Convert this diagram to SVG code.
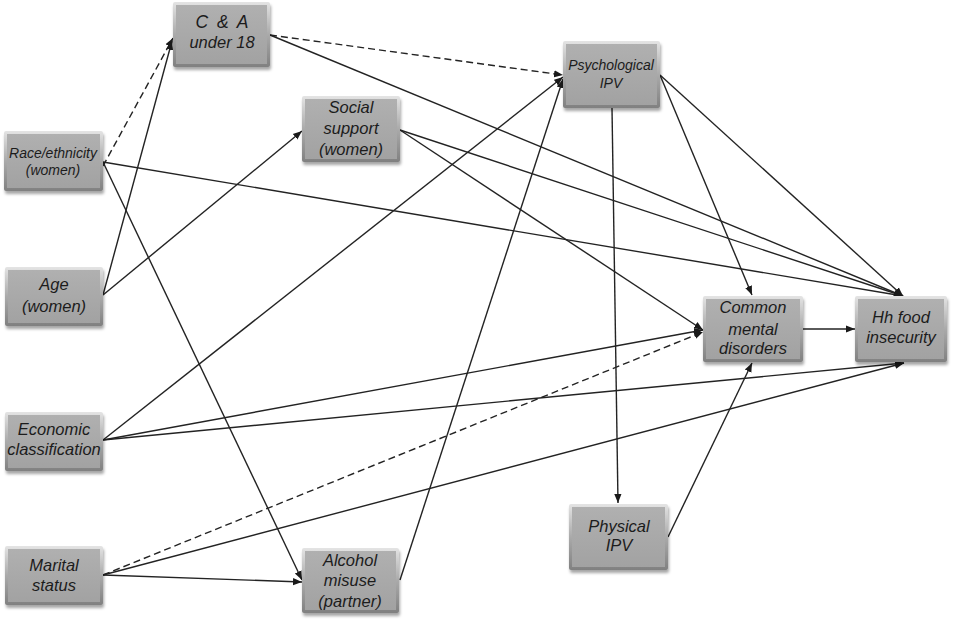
<svg xmlns="http://www.w3.org/2000/svg" width="957" height="621" viewBox="0 0 957 621">
<defs>
<linearGradient id="outer" x1="0" y1="0" x2="0" y2="1">
<stop offset="0" stop-color="#e4e4e4"/>
<stop offset="0.5" stop-color="#aaaaaa"/>
<stop offset="1" stop-color="#808080"/>
</linearGradient>
<linearGradient id="inner" x1="0" y1="0" x2="0" y2="1">
<stop offset="0" stop-color="#b0b0b0"/>
<stop offset="1" stop-color="#a2a2a2"/>
</linearGradient>
<filter id="sh" x="-10%" y="-10%" width="125%" height="130%">
<feDropShadow dx="1" dy="3" stdDeviation="1.5" flood-color="#000" flood-opacity="0.35"/>
</filter>
<marker id="ah" viewBox="0 0 10 10" refX="10" refY="5" markerWidth="9" markerHeight="9" markerUnits="userSpaceOnUse" orient="auto">
<path d="M0,1 L10,5 L0,9 Z" fill="#1a1a1a"/>
</marker>
</defs>
<style>
.b{fill:url(#outer);filter:url(#sh)}
.i{fill:url(#inner)}
text{font-family:"Liberation Sans",Arial,sans-serif;font-style:italic;font-size:16.5px;fill:#1c1c1c;text-anchor:middle}
.s{font-size:14px}
.w{word-spacing:4px;font-size:17.5px}
.c path{fill:none;stroke:#232323;stroke-width:1.4;marker-end:url(#ah)}
.c .d{stroke-dasharray:7 4}
</style>
<rect width="957" height="621" fill="#fff"/>
<g class="c" id="connectors">
<path class="d" d="M103,166 L173,38"/>
<path d="M103,295 L172,41"/>
<path d="M103,295 L302,131"/>
<path d="M103,162 L302,580"/>
<path d="M103,162 L903,296"/>
<path class="d" d="M270,35 L563,75"/>
<path d="M270,35 L903,296"/>
<path d="M400,130 L703,330"/>
<path d="M400,130 L903,296"/>
<path d="M103,440 L563,77"/>
<path d="M103,440 L703,330"/>
<path d="M103,440 L904,363"/>
<path d="M103,575 L302,582"/>
<path class="d" d="M103,575 L703,332"/>
<path d="M103,575 L904,363"/>
<path d="M400,580 L563,79"/>
<path d="M612,108 L618,503"/>
<path d="M660,75 L752,295"/>
<path d="M660,75 L903,296"/>
<path d="M668,537 L752,363"/>
<path d="M803,329 L855,329"/>
</g>
<g id="ca">
<rect class="b" x="173" y="2" width="97" height="65" rx="2"/>
<rect class="i" x="176" y="5" width="91" height="59"/>
<text class="w" x="222" y="28">C &amp; A</text>
<text x="222" y="48">under 18</text>
</g>
<g id="race">
<rect class="b" x="4" y="131" width="99" height="60" rx="2"/>
<rect class="i" x="7" y="134" width="93" height="54"/>
<text class="s" x="53" y="158">Race/ethnicity</text>
<text class="s" x="53" y="175">(women)</text>
</g>
<g id="age">
<rect class="b" x="5" y="267" width="98" height="59" rx="2"/>
<rect class="i" x="8" y="270" width="92" height="53"/>
<text x="54" y="290">Age</text>
<text x="54" y="312">(women)</text>
</g>
<g id="econ">
<rect class="b" x="5" y="412" width="98" height="59" rx="2"/>
<rect class="i" x="8" y="415" width="92" height="53"/>
<text x="54" y="435">Economic</text>
<text x="54" y="455">classification</text>
</g>
<g id="marital">
<rect class="b" x="5" y="546" width="98" height="59" rx="2"/>
<rect class="i" x="8" y="549" width="92" height="53"/>
<text x="54" y="571">Marital</text>
<text x="54" y="591">status</text>
</g>
<g id="social">
<rect class="b" x="302" y="96" width="98" height="66" rx="2"/>
<rect class="i" x="305" y="99" width="92" height="60"/>
<text x="351" y="113">Social</text>
<text x="351" y="134">support</text>
<text x="351" y="155">(women)</text>
</g>
<g id="alcohol">
<rect class="b" x="302" y="548" width="97" height="65" rx="2"/>
<rect class="i" x="305" y="551" width="91" height="59"/>
<text x="350" y="566">Alcohol</text>
<text x="350" y="586">misuse</text>
<text x="350" y="607">(partner)</text>
</g>
<g id="psych">
<rect class="b" x="563" y="41" width="97" height="67" rx="2"/>
<rect class="i" x="566" y="44" width="91" height="61"/>
<text class="s" x="611" y="70">Psychological</text>
<text class="s" x="611" y="88">IPV</text>
</g>
<g id="physical">
<rect class="b" x="569" y="504" width="99" height="66" rx="2"/>
<rect class="i" x="572" y="507" width="93" height="60"/>
<text x="619" y="532">Physical</text>
<text x="619" y="551">IPV</text>
</g>
<g id="cmd">
<rect class="b" x="703" y="296" width="100" height="66" rx="2"/>
<rect class="i" x="706" y="299" width="94" height="60"/>
<text x="753" y="313">Common</text>
<text x="753" y="335">mental</text>
<text x="753" y="354">disorders</text>
</g>
<g id="hh">
<rect class="b" x="855" y="296" width="92" height="66" rx="2"/>
<rect class="i" x="858" y="299" width="86" height="60"/>
<text x="901" y="323">Hh food</text>
<text x="901" y="343">insecurity</text>
</g>
</svg>
